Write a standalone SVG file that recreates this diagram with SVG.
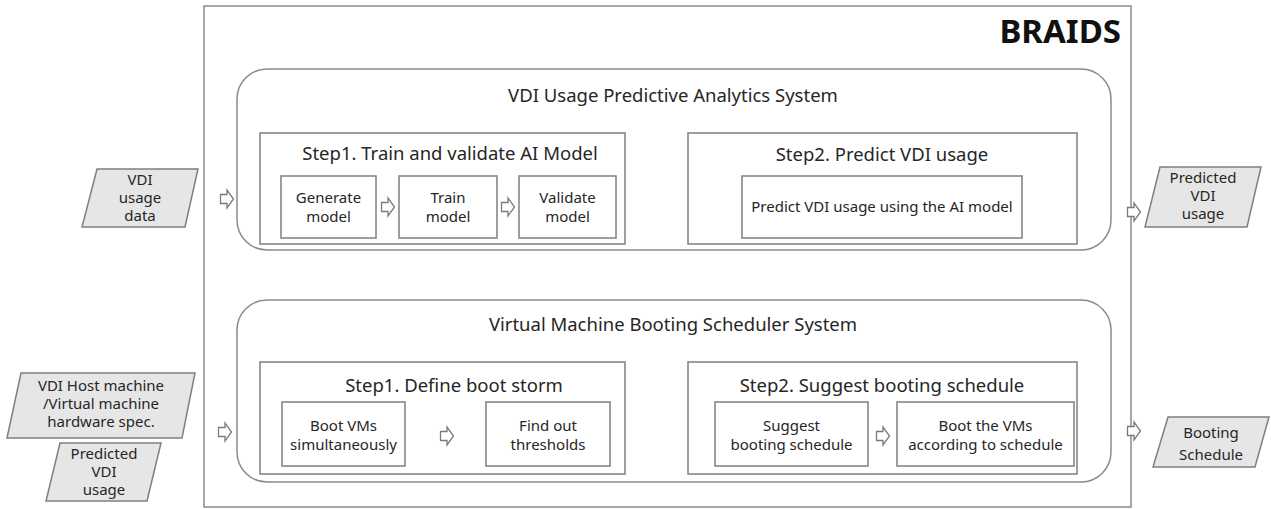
<svg xmlns="http://www.w3.org/2000/svg" width="1271" height="509" viewBox="0 0 1271 509">
<style>
  text { font-family: "Noto Sans", "Liberation Sans", sans-serif; fill: #262626; text-anchor: middle; }
  .t17 { font-size: 18.5px; }
  .t13 { font-size: 15px; }
  .title { font-family: "Noto Sans", "Liberation Sans", sans-serif; font-size: 33px; font-weight: bold; fill: #111; text-anchor: end; }
  .frame { fill: #fff; stroke: #8a8a8a; stroke-width: 1.5; }
  .sys { fill: #fff; stroke: #8a8a8a; stroke-width: 1.5; }
  .box { fill: #fff; stroke: #7f7f7f; stroke-width: 1.5; }
  .io { fill: #e6e6e6; stroke: #7f7f7f; stroke-width: 1.5; }
  .arr { fill: #fff; stroke: #7a7a7a; stroke-width: 1.3; }
</style>
<defs>
  <path id="blockArrow" d="M-6.5,-4.5 L0,-4.5 L0,-9 L6.5,0 L0,9 L0,4.5 L-6.5,4.5 Z"/>
</defs>

<g id="braids">
  <rect class="frame" x="204" y="6" width="927" height="501"/>
  <text class="title" x="1121" y="43">BRAIDS</text>
</g>

<g id="vdi-predictive-system">
  <rect class="sys" x="237" y="69" width="874" height="181" rx="30" ry="30"/>
  <text class="t17" x="673" y="102">VDI Usage Predictive Analytics System</text>
</g>

<g id="top-step1">
  <rect class="box" x="260" y="133" width="365" height="111"/>
  <text class="t17" x="450" y="160">Step1. Train and validate AI Model</text>
</g>
<g id="generate-model">
  <rect class="box" x="281" y="176" width="95" height="62"/>
  <text class="t13" x="328.5" y="203">Generate</text>
  <text class="t13" x="328.5" y="222">model</text>
</g>
<g id="train-model">
  <rect class="box" x="399" y="176" width="98" height="62"/>
  <text class="t13" x="448" y="203">Train</text>
  <text class="t13" x="448" y="222">model</text>
</g>
<g id="validate-model">
  <rect class="box" x="519" y="176" width="97" height="62"/>
  <text class="t13" x="567.5" y="203">Validate</text>
  <text class="t13" x="567.5" y="222">model</text>
</g>

<g id="top-step2">
  <rect class="box" x="688" y="133" width="389" height="111"/>
  <text class="t17" x="882" y="161">Step2. Predict VDI usage</text>
</g>
<g id="predict-usage">
  <rect class="box" x="742" y="176" width="280" height="62"/>
  <text class="t13" x="882" y="212">Predict VDI usage using the AI model</text>
</g>

<g id="vm-booting-system">
  <rect class="sys" x="237" y="300" width="874" height="182" rx="30" ry="30"/>
  <text class="t17" x="673" y="331">Virtual Machine Booting Scheduler System</text>
</g>

<g id="bottom-step1">
  <rect class="box" x="260" y="362" width="365" height="112"/>
  <text class="t17" x="454" y="392">Step1. Define boot storm</text>
</g>
<g id="boot-vms">
  <rect class="box" x="282" y="402" width="123" height="64"/>
  <text class="t13" x="343.5" y="431">Boot VMs</text>
  <text class="t13" x="343.5" y="450">simultaneously</text>
</g>
<g id="find-thresholds">
  <rect class="box" x="486" y="402" width="124" height="64"/>
  <text class="t13" x="548" y="431">Find out</text>
  <text class="t13" x="548" y="450">thresholds</text>
</g>

<g id="bottom-step2">
  <rect class="box" x="688" y="362" width="389" height="112"/>
  <text class="t17" x="882" y="392">Step2. Suggest booting schedule</text>
</g>
<g id="suggest-schedule">
  <rect class="box" x="715" y="402" width="153" height="64"/>
  <text class="t13" x="791.5" y="431">Suggest</text>
  <text class="t13" x="791.5" y="450">booting schedule</text>
</g>
<g id="boot-according">
  <rect class="box" x="897" y="402" width="177" height="64"/>
  <text class="t13" x="985.5" y="431">Boot the VMs</text>
  <text class="t13" x="985.5" y="450">according to schedule</text>
</g>

<g id="input-vdi-usage-data">
  <polygon class="io" points="97,169 198,169 185,227 82,227"/>
  <text class="t13" x="140" y="185">VDI</text>
  <text class="t13" x="140" y="203">usage</text>
  <text class="t13" x="140" y="221">data</text>
</g>
<g id="input-hardware-spec">
  <polygon class="io" points="21,373 195,373 182,438 7,438"/>
  <text class="t13" x="101" y="391">VDI Host machine</text>
  <text class="t13" x="101" y="409">/Virtual machine</text>
  <text class="t13" x="101" y="427">hardware spec.</text>
</g>
<g id="input-predicted-usage">
  <polygon class="io" points="60,443 161,443 147,501 46,501"/>
  <text class="t13" x="104" y="459">Predicted</text>
  <text class="t13" x="104" y="477">VDI</text>
  <text class="t13" x="104" y="495">usage</text>
</g>
<g id="output-predicted-usage">
  <polygon class="io" points="1160,167 1261,167 1247,227 1145,227"/>
  <text class="t13" x="1203" y="183">Predicted</text>
  <text class="t13" x="1203" y="201">VDI</text>
  <text class="t13" x="1203" y="219">usage</text>
</g>
<g id="output-booting-schedule">
  <polygon class="io" points="1168,417 1269,417 1255,467 1153,467"/>
  <text class="t13" x="1211" y="438">Booting</text>
  <text class="t13" x="1211" y="460">Schedule</text>
</g>

<g id="connectors">
  <use href="#blockArrow" class="arr" x="227" y="199"/>
  <use href="#blockArrow" class="arr" x="388" y="207"/>
  <use href="#blockArrow" class="arr" x="508" y="207"/>
  <use href="#blockArrow" class="arr" x="1134" y="212"/>
  <use href="#blockArrow" class="arr" x="225" y="432"/>
  <use href="#blockArrow" class="arr" x="447" y="436"/>
  <use href="#blockArrow" class="arr" x="883" y="436"/>
  <use href="#blockArrow" class="arr" x="1134" y="431"/>
</g>
</svg>
